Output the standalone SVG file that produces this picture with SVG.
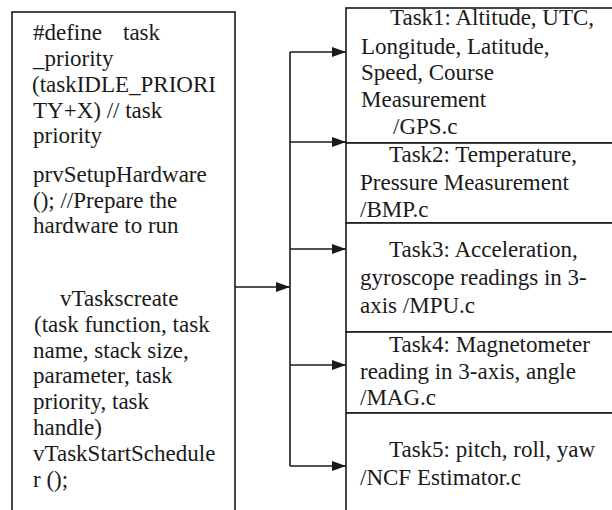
<svg xmlns="http://www.w3.org/2000/svg" width="612" height="510" viewBox="0 0 612 510">
<style>
text{font-family:'Liberation Serif','Times New Roman',serif;font-size:23px;fill:#1a1a1a}
.box{fill:#fff;stroke:#1a1a1a;stroke-width:1.6}
.ln{stroke:#1a1a1a;stroke-width:1.6;fill:none}
</style>
<defs>
<marker id="ah" markerWidth="14" markerHeight="10" refX="14" refY="5" orient="auto" markerUnits="userSpaceOnUse">
<path d="M0,0 L14,5 L0,10 Z" fill="#1a1a1a"/>
</marker>
</defs>
<rect width="612" height="510" fill="#fff"/>
<g id="main">
<rect class="box" x="12" y="12" width="223" height="510"/>
<text x="33" y="40">#define</text>
<text x="123" y="40">task</text>
<text x="33" y="66">_priority</text>
<text x="32" y="92">(taskIDLE_PRIORI</text>
<text x="33" y="118">TY+X) // task</text>
<text x="33" y="143">priority</text>
<text x="33" y="182">prvSetupHardware</text>
<text x="33" y="208">(); //Prepare the</text>
<text x="33" y="233">hardware to run</text>
<text x="60" y="306">vTaskscreate</text>
<text x="34" y="332">(task function, task</text>
<text x="33" y="358">name, stack size,</text>
<text x="33" y="383">parameter, task</text>
<text x="33" y="409">priority, task</text>
<text x="33" y="435">handle)</text>
<text x="33" y="461">vTaskStartSchedule</text>
<text x="33" y="487">r ();</text>
</g>
<g id="task1">
<rect class="box" x="346" y="8" width="280" height="135"/>
<text x="390" y="25">Task1: Altitude, UTC,</text>
<text x="361" y="54">Longitude, Latitude,</text>
<text x="361" y="80">Speed, Course</text>
<text x="361" y="107">Measurement</text>
<text x="393" y="134">/GPS.c</text>
</g>
<g id="task2">
<rect class="box" x="346" y="143" width="280" height="80"/>
<text x="389" y="162">Task2: Temperature,</text>
<text x="360" y="190">Pressure Measurement</text>
<text x="360" y="217">/BMP.c</text>
</g>
<g id="task3">
<rect class="box" x="346" y="223" width="280" height="109"/>
<text x="389" y="257">Task3: Acceleration,</text>
<text x="360" y="285">gyroscope readings in 3-</text>
<text x="360" y="313">axis /MPU.c</text>
</g>
<g id="task4">
<rect class="box" x="346" y="332" width="280" height="81"/>
<text x="389" y="352">Task4: Magnetometer</text>
<text x="360" y="379">reading in 3-axis, angle</text>
<text x="360" y="405">/MAG.c</text>
</g>
<g id="task5">
<rect class="box" x="346" y="413" width="280" height="110"/>
<text x="389" y="457">Task5: pitch, roll, yaw</text>
<text x="360" y="485">/NCF Estimator.c</text>
</g>
<g id="connectors">
<line class="ln" x1="235" y1="287" x2="290" y2="287" marker-end="url(#ah)"/>
<line class="ln" x1="290" y1="52" x2="290" y2="466"/>
<line class="ln" x1="290" y1="52" x2="346" y2="52" marker-end="url(#ah)"/>
<line class="ln" x1="290" y1="142" x2="346" y2="142" marker-end="url(#ah)"/>
<line class="ln" x1="290" y1="249" x2="346" y2="249" marker-end="url(#ah)"/>
<line class="ln" x1="290" y1="365" x2="346" y2="365" marker-end="url(#ah)"/>
<line class="ln" x1="290" y1="466" x2="346" y2="466" marker-end="url(#ah)"/>
</g>
</svg>
